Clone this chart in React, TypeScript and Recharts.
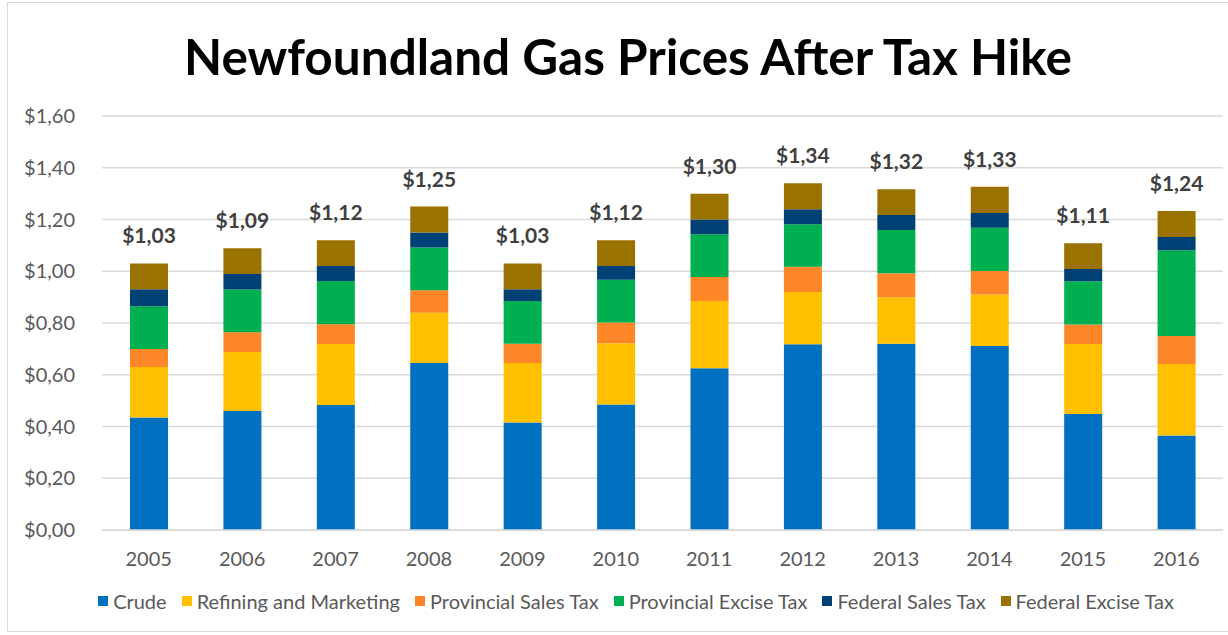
import React from "react";
import { BarChart, Bar, XAxis, YAxis, CartesianGrid, LabelList } from "recharts";

const years = ["2005", "2006", "2007", "2008", "2009", "2010", "2011", "2012", "2013", "2014", "2015", "2016"];
const crude = [0.435, 0.46, 0.483, 0.645, 0.415, 0.485, 0.625, 0.718, 0.72, 0.711, 0.448, 0.365];
const refining = [0.195, 0.228, 0.236, 0.195, 0.23, 0.237, 0.26, 0.202, 0.18, 0.199, 0.271, 0.277];
const provSales = [0.07, 0.076, 0.076, 0.087, 0.075, 0.08, 0.093, 0.097, 0.092, 0.091, 0.075, 0.108];
const provExcise = [0.165, 0.165, 0.167, 0.165, 0.165, 0.165, 0.165, 0.165, 0.167, 0.167, 0.167, 0.331];
const fedSales = [0.065, 0.06, 0.058, 0.058, 0.045, 0.053, 0.057, 0.058, 0.058, 0.057, 0.048, 0.051];
const fedExcise = [0.1, 0.1, 0.1, 0.1, 0.1, 0.1, 0.1, 0.1, 0.1, 0.102, 0.099, 0.101];
const totals = [1.03, 1.09, 1.12, 1.25, 1.03, 1.12, 1.3, 1.34, 1.32, 1.33, 1.11, 1.24];
const yTicks = [0, 0.2, 0.4, 0.6, 0.8, 1.0, 1.2, 1.4, 1.6];

const series = [
  { key: "crude", name: "Crude", color: "#0070c0" },
  { key: "refining", name: "Refining and Marketing", color: "#ffc000" },
  { key: "provSales", name: "Provincial Sales Tax", color: "#fd8628" },
  { key: "provExcise", name: "Provincial Excise Tax", color: "#00b050" },
  { key: "fedSales", name: "Federal Sales Tax", color: "#004175" },
  { key: "fedExcise", name: "Federal Excise Tax", color: "#9a7200" },
];

const data = years.map((year, i) => ({
  year,
  crude: crude[i],
  refining: refining[i],
  provSales: provSales[i],
  provExcise: provExcise[i],
  fedSales: fedSales[i],
  fedExcise: fedExcise[i],
  total: totals[i],
}));

const money = (v: number) => "$" + v.toFixed(2).replace(".", ",");

const FONT = "Lato, 'Open Sans', sans-serif";

function TotalLabel(props: any) {
  const { x, y, width, index } = props;
  return (
    <text
      x={x + width / 2}
      y={y - 20}
      textAnchor="middle"
      fontSize={21}
      fontWeight={700}
      fill="#404040"
      fontFamily={FONT}
    >
      {money(totals[index])}
    </text>
  );
}

export default function App() {
  return (
    <div
      style={{
        position: "absolute",
        left: 0,
        top: 0,
        width: 1228,
        height: 635,
        background: "#fff",
        fontFamily: FONT,
        overflow: "hidden",
      }}
    >
      <div
        style={{
          position: "absolute",
          left: 7,
          top: 2,
          width: 1230,
          height: 630,
          border: "1px solid #d9d9d9",
          boxSizing: "border-box",
        }}
      />
      <div
        style={{
          position: "absolute",
          left: 0,
          top: 32,
          width: 1256,
          textAlign: "center",
          fontSize: 49.5,
          lineHeight: 1,
          fontWeight: 700,
          color: "#000",
        }}
      >
        Newfoundland Gas Prices After Tax Hike
      </div>
      <BarChart
        width={1228}
        height={635}
        data={data}
        margin={{ top: 116, right: 5, bottom: 75, left: 7 }}
        barSize={38}
        style={{ position: "absolute", left: 0, top: 0 }}
      >
        <CartesianGrid vertical={false} stroke="#d9d9d9" strokeWidth={1.5} />
        <XAxis
          dataKey="year"
          height={30}
          axisLine={{ stroke: "#d9d9d9", strokeWidth: 1.5 }}
          tickLine={false}
          tickSize={0}
          tickMargin={22}
          tick={{ fontSize: 20, fill: "#595959", fontFamily: FONT }}
        />
        <YAxis
          width={95}
          domain={[0, 1.6]}
          ticks={yTicks}
          interval={0}
          axisLine={false}
          tickLine={false}
          tickSize={0}
          tickMargin={27}
          tickFormatter={money}
          tick={{ fontSize: 20, fill: "#595959", fontFamily: FONT }}
        />
        {series.map((s, idx) => (
          <Bar
            key={s.key}
            dataKey={s.key}
            name={s.name}
            stackId="a"
            fill={s.color}
            isAnimationActive={false}
          >
            {idx === series.length - 1 && <LabelList dataKey="total" content={<TotalLabel />} />}
          </Bar>
        ))}
      </BarChart>
      <div
        style={{
          position: "absolute",
          left: 0,
          top: 589,
          width: 1272,
          display: "flex",
          justifyContent: "center",
          gap: 15,
          fontSize: 20,
          lineHeight: "24px",
          color: "#595959",
        }}
      >
        {series.map((s) => (
          <div key={s.key} style={{ display: "flex", alignItems: "center", gap: 5 }}>
            <span style={{ display: "inline-block", width: 10, height: 10, background: s.color }} />
            <span>{s.name}</span>
          </div>
        ))}
      </div>
    </div>
  );
}
